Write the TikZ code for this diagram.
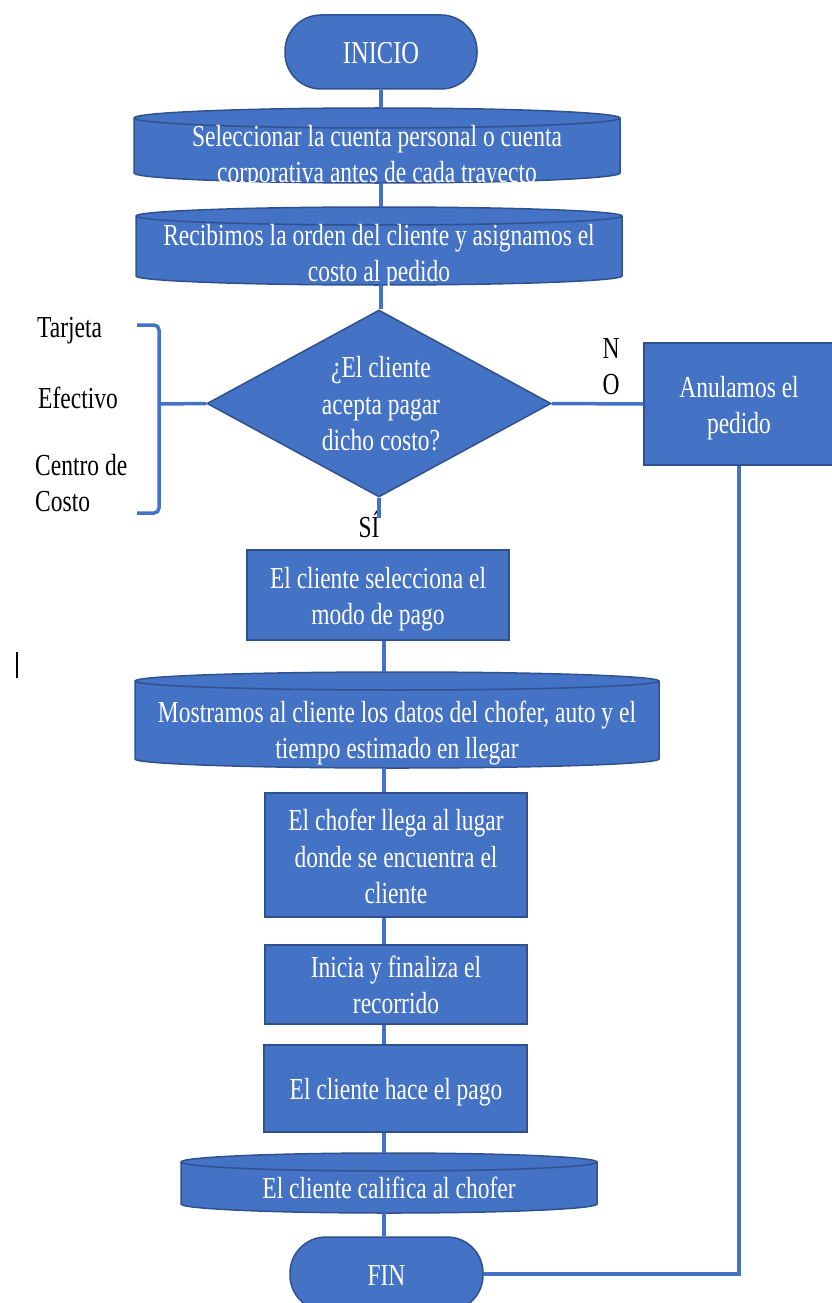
\documentclass[tikz,border=0pt]{standalone}
\usepackage{fontspec}
\setmainfont{Liberation Serif}
\usepackage{graphicx}
\usetikzlibrary{shapes.geometric}
\definecolor{boxfill}{HTML}{4472C4}
\definecolor{boxline}{HTML}{2F528F}
\definecolor{linecol}{HTML}{4472C4}
\newcommand\vs[1]{\scalebox{1}[1.3]{\begin{tabular}{@{}c@{}}#1\end{tabular}}}
\newcommand\vsl[1]{\scalebox{1}[1.3]{\begin{tabular}{@{}l@{}}#1\end{tabular}}}
% L R ytopcenter ybottomcenter ry  (pixel units, y downwards)
\newcommand\cylpath[5]{%
  \pgfmathsetmacro\cylrx{(#2-#1)/2}%
  \filldraw[cylbox] (#1,-#3) -- (#1,-#4)
     arc[start angle=180,end angle=360,x radius=\cylrx,y radius=#5]
     -- (#2,-#3)
     arc[start angle=0,end angle=180,x radius=\cylrx,y radius=#5] -- cycle;
  \draw[cylbox,fill=none] (#1,-#3)
     arc[start angle=180,end angle=360,x radius=\cylrx,y radius=#5];
}
\tikzset{
  procbox/.style={rectangle, draw=boxline, fill=boxfill, line width=1.5pt, inner sep=0pt},
  terminal/.style={procbox, rounded corners=36pt},
  decision/.style={diamond, draw=boxline, fill=boxfill, line width=1.5pt, inner sep=0pt},
  frame/.style={rectangle, draw=none, inner sep=0pt, outer sep=0pt},
  cylbox/.style={draw=boxline, fill=boxfill, line width=1.5pt},
  txt/.style={text=white, inner sep=0pt, font=\fontsize{23.5}{28}\selectfont},
  lbl/.style={text=black, inner sep=0pt, font=\fontsize{23.5}{28}\selectfont},
  conn/.style={draw=linecol, line width=3.5pt}
}
\begin{document}
\begin{tikzpicture}[x=1pt,y=1pt]
\useasboundingbox (0,0) rectangle (832,-1303);

% spines
\coordinate (sp1) at (381,0);
\coordinate (sp2) at (384,0);
\coordinate (anx) at (739,0);

% ---- shapes ----
\node[terminal, minimum width=192pt, minimum height=74pt] (ini) at (381,-52) {};
\node[txt, font=\fontsize{24.5}{28}\selectfont] (iniT) at (381,-56) {\vs{INICIO}};

\cylpath{134}{620}{118}{173}{10}
\node[frame, minimum width=486pt, minimum height=75pt] (c1) at (377,-145.5) {};
\node[txt] (c1T) at (377,-157) {\vs{Seleccionar la cuenta personal o cuenta\\corporativa antes de cada trayecto}};

\cylpath{136}{622}{216}{276}{9}
\node[frame, minimum width=486pt, minimum height=78pt] (c2) at (379,-246) {};
\node[txt] (c2T) at (379,-256) {\vs{Recibimos la orden del cliente y asignamos el\\costo al pedido}};

\node[decision, minimum width=344pt, minimum height=187pt] (d) at (379,-403.5) {};
\node[txt] (dT) at (381,-407) {\vs{¿El cliente\\acepta pagar\\dicho costo?}};

\node[procbox, minimum width=196pt, minimum height=122pt] (an) at (742,-404) {};
\node[txt] (anT) at (739,-408) {\vs{Anulamos el\\pedido}};

\node[procbox, minimum width=262pt, minimum height=90pt] (sel) at (378,-595) {};
\node[txt] (selT) at (378,-599) {\vs{El cliente selecciona el\\modo de pago}};

\cylpath{135}{659}{681}{759}{9}
\node[frame, minimum width=524pt, minimum height=96pt] (c3) at (397,-720) {};
\node[txt] (c3T) at (397,-733) {\vs{Mostramos al cliente los datos del chofer, auto y el\\tiempo estimado en llegar}};

\node[procbox, minimum width=262pt, minimum height=124pt] (b4) at (396,-855) {};
\node[txt] (b4T) at (396,-860) {\vs{El chofer llega al lugar\\donde se encuentra el\\cliente}};

\node[procbox, minimum width=262pt, minimum height=79pt] (b5) at (396,-984.5) {};
\node[txt] (b5T) at (396,-988) {\vs{Inicia y finaliza el\\recorrido}};

\node[procbox, minimum width=263pt, minimum height=87pt] (b6) at (395.5,-1088.5) {};
\node[txt] (b6T) at (396,-1092) {\vs{El cliente hace el pago}};

\cylpath{181}{597}{1162}{1204}{9}
\node[frame, minimum width=416pt, minimum height=60pt] (c7) at (389,-1183) {};
\node[txt] (c7T) at (389,-1191) {\vs{El cliente califica al chofer}};

\node[terminal, minimum width=193pt, minimum height=74pt] (fin) at (386.5,-1274) {};
\node[txt] (finT) at (386.5,-1278) {\vs{FIN}};

% ---- side labels ----
\node[lbl, anchor=base west] (tarj) at (37,-337) {\scalebox{1}[1.3]{Tarjeta}};
\node[lbl, anchor=base west] (efec) at (38,-408) {\scalebox{1}[1.3]{Efectivo}};
\node[lbl, anchor=north west] (cc) at (35,-449.5) {\vsl{Centro de\\Costo}};
\node[lbl, anchor=north] (no) at (611,-332.5) {\vs{N\\O}};
\node[lbl, anchor=base] (si) at (369,-537) {\scalebox{1}[1.3]{SÍ}};

% ---- connectors ----
\draw[conn] (ini.south) -- (ini.south |- c1.north);
\draw[conn] (c1.south -| sp1) -- (c2.north -| sp1);
\draw[conn] (c2.south -| sp1) -- (d.north -| sp1);
\coordinate (siend) at (383,-518);
\draw[conn] (d.south) -- (d.south |- siend);
\draw[conn] (d.east) -- (an.west);
\draw[conn] (an.south -| anx) |- (fin.east);
\draw[conn] (sel.south -| sp2) -- (c3.north -| sp2);
\draw[conn] (c3.south -| sp2) -- (b4.north -| sp2);
\draw[conn] (b4.south -| sp2) -- (b5.north -| sp2);
\draw[conn] (b5.south -| sp2) -- (b6.north -| sp2);
\draw[conn] (b6.south -| sp2) -- (c7.north -| sp2);
\draw[conn] (c7.south -| sp2) -- (fin.north -| sp2);

% bracket
\coordinate (brT) at (137,-325);
\coordinate (brB) at (137,-513);
\coordinate (brM) at (159,-404);
\draw[conn, rounded corners=5pt] (brT) -- (159,-325) -- (159,-513) -- (brB);
\draw[conn] (brM) -- (d.west);

% text cursor mark
\draw[black, line width=1.3pt] (17,-652) -- (17,-678);
\end{tikzpicture}
\end{document}
